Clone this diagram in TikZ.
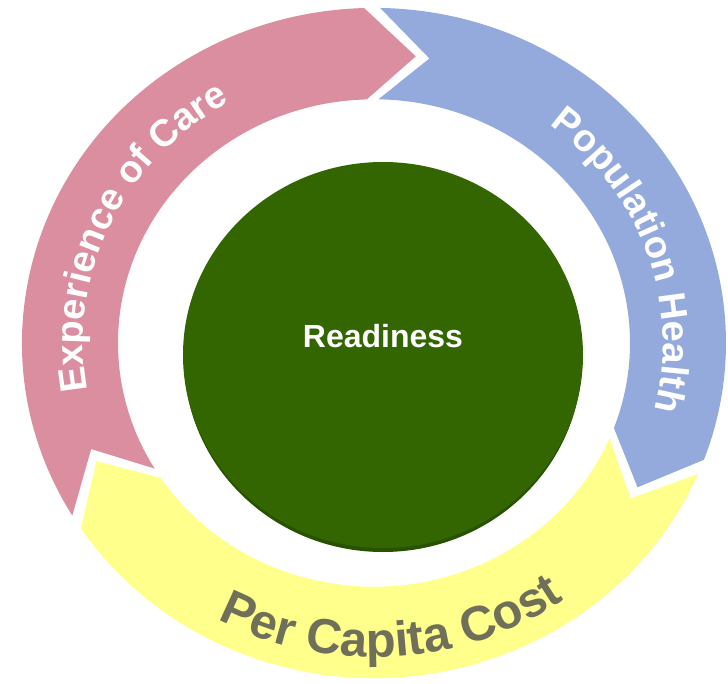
\documentclass[tikz,border=0pt]{standalone}
\usepackage{fontspec}
\setmainfont{Liberation Sans}
\usetikzlibrary{decorations.text}
\definecolor{careRed}{RGB}{218,142,160}
\definecolor{healthBlue}{RGB}{148,170,220}
\definecolor{costYellow}{RGB}{255,255,140}
\definecolor{costGray}{RGB}{112,112,90}
\definecolor{readyGreen}{RGB}{51,102,0}
\definecolor{readyRim}{RGB}{40,82,0}
% ring of the cycle
\newcommand\RingOut{352}
\newcommand\RingIn{256}
\newcommand\RingMid{304}
\newcommand\RingY{0.952}
\newcommand\TipLen{9.5}
% clockwise arrow from tail angle #1 to head angle #2
\newcommand\CycleArrow[3]{%
    \fill[#3] ({\RingOut*cos(#1)},{\RingY*\RingOut*sin(#1)})
        arc[start angle=#1, end angle=#2, x radius=\RingOut, y radius=\RingY*\RingOut]
        -- ({\RingMid*cos(#2-\TipLen)},{\RingY*\RingMid*sin(#2-\TipLen)})
        -- ({\RingIn*cos(#2)},{\RingY*\RingIn*sin(#2)})
        arc[start angle=#2, end angle=#1, x radius=\RingIn, y radius=\RingY*\RingIn]
        -- ({\RingMid*cos(#1-\TipLen)},{\RingY*\RingMid*sin(#1-\TipLen)})
        -- cycle;
}
% text on an arc from angle #1 to #2, baseline radius #3, colour #4, size #5
\newcommand\ArcLabel[6]{%
    \path[decorate, decoration={text along path, text align=center, text color=#4,
        text={|\fontsize{#5}{#5}\selectfont\bfseries|#6}}]
        ({#3*cos(#1)},{\RingY*#3*sin(#1)})
        arc[start angle=#1, end angle=#2, x radius=#3, y radius=\RingY*#3];
}
\begin{document}
\begin{tikzpicture}[x=1pt, y=1pt,
    ready/.style={text=white, font=\fontsize{32}{32}\selectfont\bfseries}]
    \useasboundingbox (-374,-340) rectangle (354,343);
    % the three arrows
    \CycleArrow{211}{91.6}{careRed}
    \CycleArrow{89}{-20.4}{healthBlue}
    \CycleArrow{-23}{-146.4}{costYellow}
    % their labels
    \ArcLabel{202}{108}{291}{white}{38}{Experience of Care}
    \ArcLabel{70}{-32}{289}{white}{38}{Population Health}
    \ArcLabel{225}{322}{330}{costGray}{49}{Per Capita Cost}
    % centre disk
    \fill[readyRim] (9,-16) ellipse[x radius=199, y radius=193];
    \fill[readyGreen] (9,-12) ellipse[x radius=200, y radius=193];
    \node[ready] (readiness) at (9,7) {Readiness};
\end{tikzpicture}
\end{document}
